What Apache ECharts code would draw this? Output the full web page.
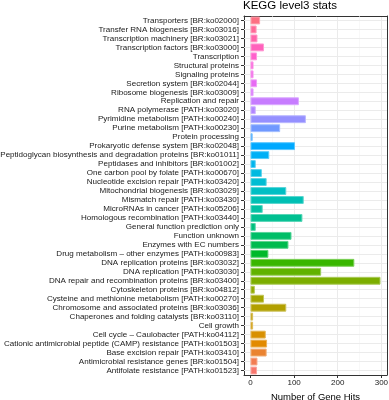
<!DOCTYPE html>
<html>
<head>
<meta charset="utf-8">
<script src="https://cdn.jsdelivr.net/npm/echarts@6/dist/echarts.min.js"></script>
<style>
  html, body { margin: 0; padding: 0; background: #fff; }
  #main { width: 389px; height: 400px; }
</style>
</head>
<body>
<div id="main"></div>
<script>
// 类目 (从下到上, 字母顺序)
var categories = [
  'Antifolate resistance [PATH:ko01523]',
  'Antimicrobial resistance genes [BR:ko01504]',
  'Base excision repair [PATH:ko03410]',
  'Cationic antimicrobial peptide (CAMP) resistance [PATH:ko01503]',
  'Cell cycle – Caulobacter [PATH:ko04112]',
  'Cell growth',
  'Chaperones and folding catalysts [BR:ko03110]',
  'Chromosome and associated proteins [BR:ko03036]',
  'Cysteine and methionine metabolism [PATH:ko00270]',
  'Cytoskeleton proteins [BR:ko04812]',
  'DNA repair and recombination proteins [BR:ko03400]',
  'DNA replication [PATH:ko03030]',
  'DNA replication proteins [BR:ko03032]',
  'Drug metabolism – other enzymes [PATH:ko00983]',
  'Enzymes with EC numbers',
  'Function unknown',
  'General function prediction only',
  'Homologous recombination [PATH:ko03440]',
  'MicroRNAs in cancer [PATH:ko05206]',
  'Mismatch repair [PATH:ko03430]',
  'Mitochondrial biogenesis [BR:ko03029]',
  'Nucleotide excision repair [PATH:ko03420]',
  'One carbon pool by folate [PATH:ko00670]',
  'Peptidases and inhibitors [BR:ko01002]',
  'Peptidoglycan biosynthesis and degradation proteins [BR:ko01011]',
  'Prokaryotic defense system [BR:ko02048]',
  'Protein processing',
  'Purine metabolism [PATH:ko00230]',
  'Pyrimidine metabolism [PATH:ko00240]',
  'RNA polymerase [PATH:ko03020]',
  'Replication and repair',
  'Ribosome biogenesis [BR:ko03009]',
  'Secretion system [BR:ko02044]',
  'Signaling proteins',
  'Structural proteins',
  'Transcription',
  'Transcription factors [BR:ko03000]',
  'Transcription machinery [BR:ko03021]',
  'Transfer RNA biogenesis [BR:ko03016]',
  'Transporters [BR:ko02000]'
];

// 基因数
var hits = [
  15, 16, 37, 38, 35, 6, 6, 82, 31, 10,
  298, 162, 238, 41, 87, 94, 12, 119, 28, 122,
  82, 37, 26, 12, 43, 102, 5, 68, 127, 12,
  111, 7, 15, 7, 7, 15, 31, 16, 14, 22
];

var xTicks = [0, 100, 200, 300];
var xMinorTicks = [50, 150, 250];

// ggplot 默认色盘 (hcl, c=100, l=65)
function hcl(h, c, l) {
  var hr = h * Math.PI / 180;
  var U = c * Math.cos(hr), V = c * Math.sin(hr);
  var Y = Math.pow((l + 16) / 116, 3);
  var Xn = 0.95047, Yn = 1, Zn = 1.08883;
  var d = Xn + 15 * Yn + 3 * Zn;
  var un = 4 * Xn / d, vn = 9 * Yn / d;
  var u = U / (13 * l) + un, v = V / (13 * l) + vn;
  var X = Y * 9 * u / (4 * v), Z = Y * (12 - 3 * u - 20 * v) / (4 * v);
  var rgb = [
    3.2404542 * X - 1.5371385 * Y - 0.4985314 * Z,
    -0.9692660 * X + 1.8760108 * Y + 0.0415560 * Z,
    0.0556434 * X - 0.2040259 * Y + 1.0572252 * Z
  ].map(function (t) {
    t = t <= 0.0031308 ? 12.92 * t : 1.055 * Math.pow(t, 1 / 2.4) - 0.055;
    return Math.round(Math.max(0, Math.min(1, t)) * 255);
  });
  return rgb;
}

var n = categories.length;
var barData = hits.map(function (v, i) {
  var c = hcl(15 + 360 * i / n, 100, 65);
  var light = c.map(function (t) { return Math.round(t + (255 - t) * 0.35); });
  return {
    value: v,
    itemStyle: {
      color: 'rgb(' + c.join(',') + ')',
      borderColor: 'rgb(' + light.join(',') + ')',
      borderWidth: 1
    }
  };
});

var gridLines = [];
xMinorTicks.forEach(function (v) {
  gridLines.push({ xAxis: v, lineStyle: { color: '#F4F4F4', width: 0.6, type: 'solid' } });
});
categories.forEach(function (c) {
  gridLines.push({ yAxis: c, lineStyle: { color: '#EBEBEB', width: 1, type: 'solid' } });
});

var font = 'Liberation Sans';
var borderLine = { show: true, onZero: false, lineStyle: { color: '#333333', width: 1 } };

var chart = echarts.init(document.getElementById('main'), null, { renderer: 'canvas' });

var option = {
  animation: false,
  title: {
    text: 'KEGG level3 stats',
    left: 243,
    top: 0,
    padding: 0,
    textStyle: {
      fontFamily: font,
      fontSize: 11.5,
      fontWeight: 'normal',
      color: '#000'
    }
  },
  grid: {
    left: 244,
    right: 2,
    top: 16,
    bottom: 25,
    containLabel: false,
    outerBoundsMode: 'none'
  },
  xAxis: [
    {
      type: 'value',
      min: -14.9,
      max: 312.9,
      name: 'Number of Gene Hits',
      nameLocation: 'middle',
      nameGap: 13,
      nameTextStyle: {
        fontFamily: font,
        fontSize: 9.5,
        color: '#000'
      },
      axisLine: borderLine,
      axisTick: {
        show: true,
        customValues: xTicks,
        length: 3,
        lineStyle: { color: '#333333', width: 1 }
      },
      axisLabel: {
        customValues: xTicks,
        margin: 4,
        fontFamily: font,
        fontSize: 8,
        color: '#1a1a1a'
      },
      splitLine: {
        show: true,
        lineStyle: { color: '#EBEBEB', width: 1 }
      }
    },
    {
      // 上边框
      type: 'value',
      position: 'top',
      min: -14.9,
      max: 312.9,
      axisLine: borderLine,
      axisTick: { show: false },
      axisLabel: { show: false },
      splitLine: { show: false }
    }
  ],
  yAxis: [
    {
      type: 'category',
      data: categories,
      axisLine: borderLine,
      axisTick: {
        show: true,
        alignWithLabel: true,
        length: 3,
        lineStyle: { color: '#333333', width: 1 }
      },
      axisLabel: {
        interval: 0,
        margin: 5,
        fontFamily: font,
        fontSize: 8.05,
        color: '#1a1a1a'
      },
      splitLine: { show: false }
    },
    {
      // 右边框
      type: 'category',
      position: 'right',
      data: categories,
      axisLine: borderLine,
      axisTick: { show: false },
      axisLabel: { show: false },
      splitLine: { show: false }
    }
  ],
  series: [
    {
      // 背景网格线
      type: 'line',
      data: [],
      z: 1,
      silent: true,
      markLine: {
        silent: true,
        symbol: 'none',
        label: { show: false },
        z: 1,
        data: gridLines
      }
    },
    {
      name: 'hits',
      type: 'bar',
      z: 3,
      barCategoryGap: '12%',
      data: barData
    }
  ]
};
chart.setOption(option);
</script>
</body>
</html>
